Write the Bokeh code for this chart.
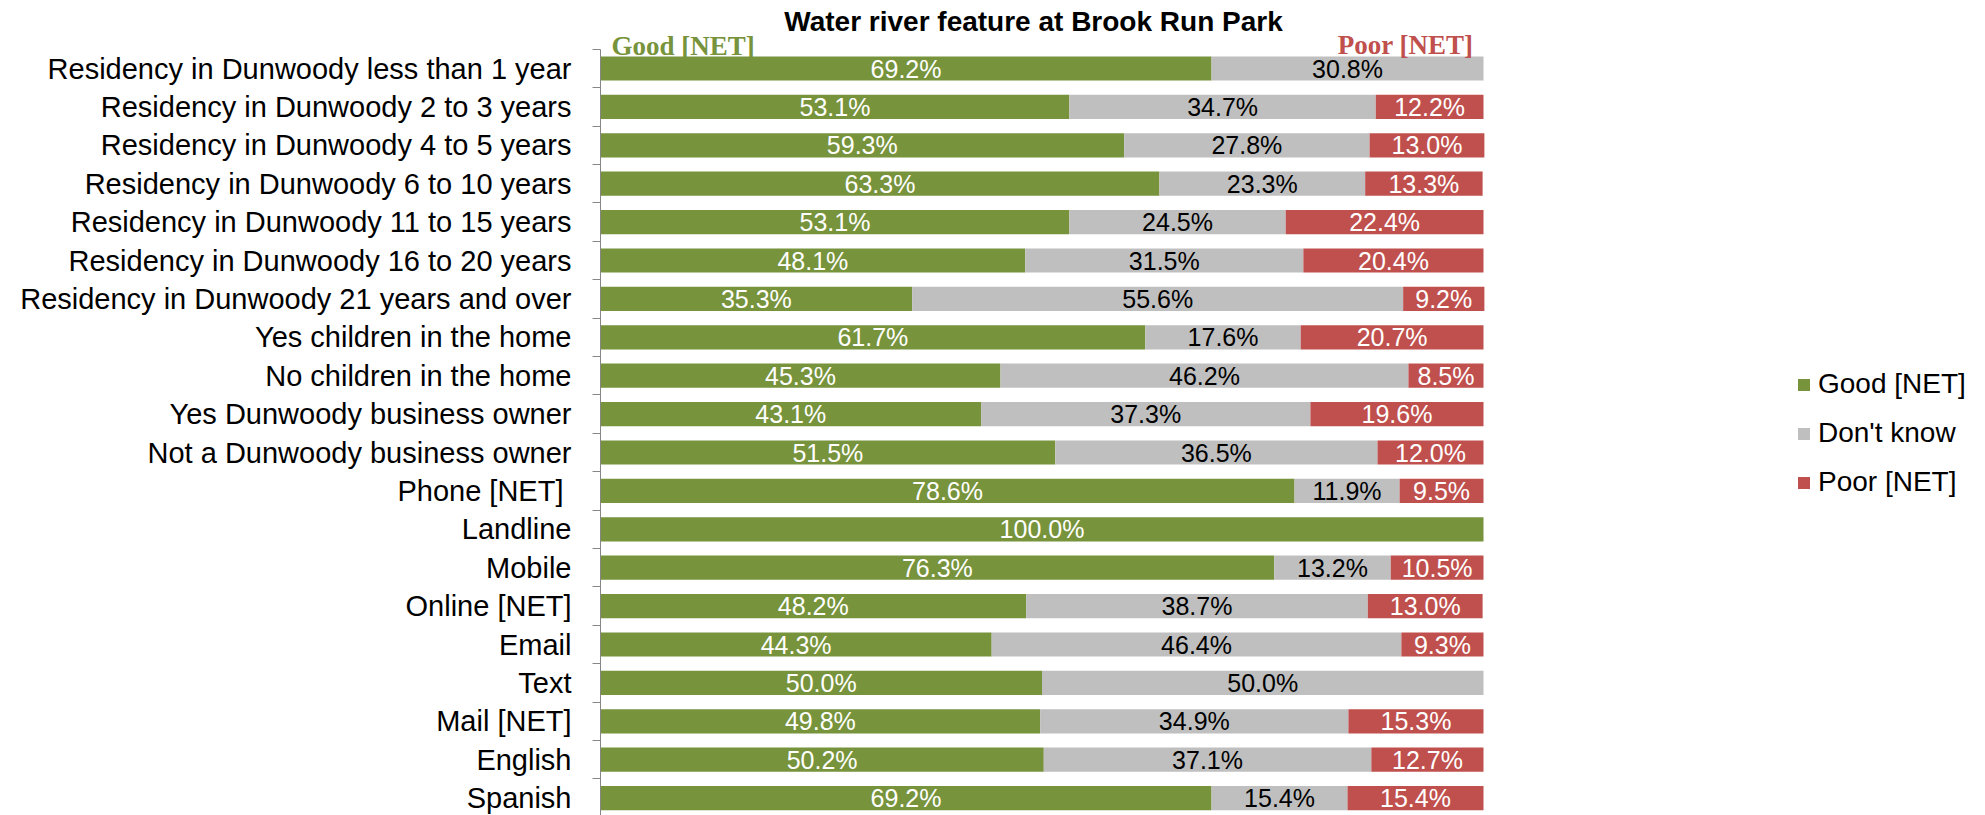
from bokeh.plotting import figure
from bokeh.models import (ColumnDataSource, Range1d, FixedTicker, Legend, LegendItem)
from bokeh.core.properties import value
from bokeh.embed import file_html
from bokeh.resources import INLINE

categories = [
    "Residency in Dunwoody less than 1 year",
    "Residency in Dunwoody 2 to 3 years",
    "Residency in Dunwoody 4 to 5 years",
    "Residency in Dunwoody 6 to 10 years",
    "Residency in Dunwoody 11 to 15 years",
    "Residency in Dunwoody 16 to 20 years",
    "Residency in Dunwoody 21 years and over",
    "Yes children in the home",
    "No children in the home",
    "Yes Dunwoody business owner",
    "Not a Dunwoody business owner",
    "Phone  [NET]",
    "Landline",
    "Mobile",
    "Online [NET]",
    "Email",
    "Text",
    "Mail [NET]",
    "English",
    "Spanish",
]
good = [69.2, 53.1, 59.3, 63.3, 53.1, 48.1, 35.3, 61.7, 45.3, 43.1, 51.5,
        78.6, 100.0, 76.3, 48.2, 44.3, 50.0, 49.8, 50.2, 69.2]
dont_know = [30.8, 34.7, 27.8, 23.3, 24.5, 31.5, 55.6, 17.6, 46.2, 37.3, 36.5,
             11.9, 0.0, 13.2, 38.7, 46.4, 50.0, 34.9, 37.1, 15.4]
poor = [0.0, 12.2, 13.0, 13.3, 22.4, 20.4, 9.2, 20.7, 8.5, 19.6, 12.0,
        9.5, 0.0, 10.5, 13.0, 9.3, 0.0, 15.3, 12.7, 15.4]
series_names = ["Good [NET]", "Don't know", "Poor [NET]"]
colors = ["#77933C", "#BFBFBF", "#C0504D"]
label_colors = ["white", "black", "white"]
title_text = "Water river feature at Brook Run Park"

# ---- layout (page pixels) ----
FIG_W, FIG_H = 1985, 815
FRAME_LEFT = 600      # page x of 0%
FULL_RIGHT = 1483     # page x of 100%
ROW0 = 68.0           # page y of first row centre
STEP = 38.4           # px between rows

frame_w = FIG_W - FRAME_LEFT
frame_h = FIG_H
px_per_pct = (FULL_RIGHT - FRAME_LEFT) / 100.0
x_end = frame_w / px_per_pct
y_top = -ROW0 / STEP
y_bot = y_top + frame_h / STEP


def xdat(px):
    return (px - FRAME_LEFT) / px_per_pct


def ydat(py):
    return y_top + py / STEP


n = len(categories)
idx = list(range(n))

src = ColumnDataSource(dict(y=idx, good=good, dk=dont_know, poor=poor))

p = figure(width=FIG_W, height=FIG_H, output_backend="svg", toolbar_location=None,
           x_range=Range1d(0, x_end), y_range=Range1d(y_bot, y_top),
           min_border_left=FRAME_LEFT, min_border_right=0,
           min_border_top=0, min_border_bottom=0)
p.outline_line_color = None
p.xgrid.visible = False
p.ygrid.visible = False
p.xaxis.visible = False
p.background_fill_color = "white"
p.border_fill_color = "white"

renderers = p.hbar_stack(["good", "dk", "poor"], y="y", height=0.63, color=colors,
                         line_color=None, source=src)

# value labels
for k, vals in enumerate([good, dont_know, poor]):
    xs, ys, ts = [], [], []
    for i in range(n):
        v = vals[i]
        if v <= 0:
            continue
        start = sum([good, dont_know, poor][j][i] for j in range(k))
        xs.append(start + v / 2.0)
        ys.append(i)
        ts.append(f"{v:.1f}%")
    p.text(x=xs, y=ys, text=ts, text_align="center", text_baseline="middle",
           text_font=value("Liberation Sans"), text_font_size="25px",
           text_color=label_colors[k])

# y axis
yax = p.yaxis[0]
yax.ticker = FixedTicker(ticks=idx, minor_ticks=[i - 0.5 for i in range(n + 1)])
yax.bounds = (-0.5, y_bot)
yax.major_label_overrides = {i: categories[i] for i in idx}
yax.major_label_text_font = "Liberation Sans"
yax.major_label_text_font_size = "29px"
yax.major_label_text_color = "black"
yax.major_tick_line_color = None
yax.major_tick_out = 8
yax.major_tick_in = 0
yax.minor_tick_line_color = "#868686"
yax.minor_tick_out = 8
yax.minor_tick_in = 0
yax.axis_line_color = "#868686"
yax.major_label_standoff = 21

# title and headers (drawn as text glyphs above the bars)
p.text(x=[xdat(1033)], y=[ydat(21)], text=[title_text],
       text_align="center", text_baseline="middle",
       text_font=value("Liberation Sans"), text_font_style="bold",
       text_font_size="28px", text_color="black")
p.text(x=[xdat(611)], y=[ydat(45)], text=[series_names[0]], text_align="left",
       text_baseline="middle", text_font=value("Liberation Serif"),
       text_font_style="bold", text_font_size="27px", text_color=colors[0])
p.text(x=[xdat(1473)], y=[ydat(44.5)], text=[series_names[2]], text_align="right",
       text_baseline="middle", text_font=value("Liberation Serif"),
       text_font_style="bold", text_font_size="27px", text_color=colors[2])

legend = Legend(items=[LegendItem(label=series_names[k], renderers=[renderers[k]]) for k in range(3)],
                location=(1796 - FRAME_LEFT, FIG_H - 499),
                padding=0, margin=0, spacing=15, label_height=34,
                glyph_width=15, glyph_height=15, label_standoff=7,
                label_text_font="Liberation Sans", label_text_font_size="28px",
                label_text_color="black", border_line_color=None,
                background_fill_alpha=0)
p.add_layout(legend)

open("out.html", "w").write(file_html(p, INLINE))
